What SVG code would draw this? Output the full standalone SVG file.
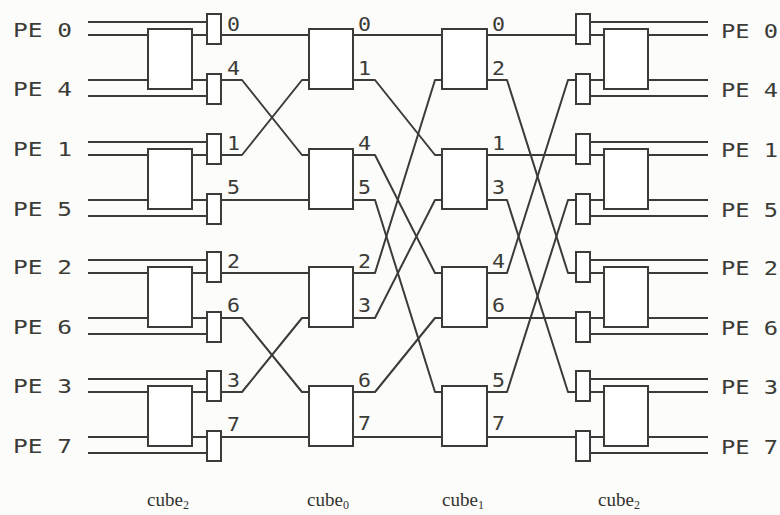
<svg xmlns="http://www.w3.org/2000/svg" width="780" height="515" viewBox="0 0 780 515">
  <style>
    .bg { fill: #fcfcfa; }
    .sw { fill: #ffffff; stroke: #3b3b38; stroke-width: 2; }
    .mx { fill: #ffffff; stroke: #3b3b38; stroke-width: 2; }
    .w { fill: none; stroke: #3b3b38; stroke-width: 2; stroke-linejoin: round; }
    .pe { font-family: "DejaVu Sans Mono", "Liberation Mono", monospace; font-size: 20px; fill: #3b3b38; }
    .tag { font-family: "DejaVu Sans Mono", "Liberation Mono", monospace; font-size: 20px; fill: #3b3b38; }
    .cap { font-family: "Liberation Serif", "DejaVu Serif", serif; font-size: 19px; fill: #333330; }
    .sub { font-size: 12px; }
  </style>

  <rect class="bg" x="0" y="0" width="780" height="515"/>

  <!-- wires: PE inputs, inter-stage links, PE outputs -->
  <g id="connectors">
    <!-- input side, pair 0/4 -->
    <path class="w" d="M88 22H207 M88 35H148 M192 35H207 M88 80H148 M192 80H207 M88 96H207"/>
    <!-- pair 1/5 -->
    <path class="w" d="M88 142H207 M88 155H148 M192 155H207 M88 200H148 M192 200H207 M88 216H207"/>
    <!-- pair 2/6 -->
    <path class="w" d="M88 260H207 M88 273H148 M192 273H207 M88 318H148 M192 318H207 M88 334H207"/>
    <!-- pair 3/7 -->
    <path class="w" d="M88 379H207 M88 392H148 M192 392H207 M88 437H148 M192 437H207 M88 453H207"/>

    <!-- cube2 -> cube0 -->
    <path class="w" d="M221 35H309"/>
    <path class="w" d="M221 80H242L302 155H309"/>
    <path class="w" d="M221 155H242L302 80H309"/>
    <path class="w" d="M221 200H309"/>
    <path class="w" d="M221 273H309"/>
    <path class="w" d="M221 318H242L302 392H309"/>
    <path class="w" d="M221 392H242L302 318H309"/>
    <path class="w" d="M221 437H309"/>

    <!-- cube0 -> cube1 -->
    <path class="w" d="M353 35H442"/>
    <path class="w" d="M353 80H375L435 155H442"/>
    <path class="w" d="M353 155H375L435 273H442"/>
    <path class="w" d="M353 200H375L435 392H442"/>
    <path class="w" d="M353 273H375L435 80H442"/>
    <path class="w" d="M353 318H375L435 200H442"/>
    <path class="w" d="M353 392H375L435 318H442"/>
    <path class="w" d="M353 437H442"/>

    <!-- cube1 -> cube2 -->
    <path class="w" d="M487 35H576"/>
    <path class="w" d="M487 80H507L568 273H576"/>
    <path class="w" d="M487 155H576"/>
    <path class="w" d="M487 200H507L568 392H576"/>
    <path class="w" d="M487 273H507L568 80H576"/>
    <path class="w" d="M487 318H576"/>
    <path class="w" d="M487 392H507L568 200H576"/>
    <path class="w" d="M487 437H576"/>

    <!-- output side -->
    <path class="w" d="M590 22H708 M590 35H604 M648 35H708 M648 80H708 M590 80H604 M590 96H708"/>
    <path class="w" d="M590 142H708 M590 155H604 M648 155H708 M648 200H708 M590 200H604 M590 216H708"/>
    <path class="w" d="M590 260H708 M590 273H604 M648 273H708 M648 318H708 M590 318H604 M590 334H708"/>
    <path class="w" d="M590 379H708 M590 392H604 M648 392H708 M648 437H708 M590 437H604 M590 453H708"/>
  </g>

  <!-- first cube2 stage: switch boxes and selectors -->
  <g id="in-sw-0"><rect class="sw" x="148" y="29" width="44" height="60"/></g>
  <g id="in-sw-1"><rect class="sw" x="148" y="149" width="44" height="60"/></g>
  <g id="in-sw-2"><rect class="sw" x="148" y="267" width="44" height="60"/></g>
  <g id="in-sw-3"><rect class="sw" x="148" y="386" width="44" height="60"/></g>

  <g id="in-mux-0"><rect class="mx" x="207" y="14" width="14" height="30"/><text class="tag" x="227" y="31" textLength="13" lengthAdjust="spacingAndGlyphs">0</text></g>
  <g id="in-mux-4"><rect class="mx" x="207" y="74" width="14" height="30"/><text class="tag" x="227" y="75" textLength="13" lengthAdjust="spacingAndGlyphs">4</text></g>
  <g id="in-mux-1"><rect class="mx" x="207" y="134" width="14" height="30"/><text class="tag" x="227" y="150" textLength="13" lengthAdjust="spacingAndGlyphs">1</text></g>
  <g id="in-mux-5"><rect class="mx" x="207" y="194" width="14" height="30"/><text class="tag" x="227" y="194" textLength="13" lengthAdjust="spacingAndGlyphs">5</text></g>
  <g id="in-mux-2"><rect class="mx" x="207" y="252" width="14" height="30"/><text class="tag" x="227" y="268" textLength="13" lengthAdjust="spacingAndGlyphs">2</text></g>
  <g id="in-mux-6"><rect class="mx" x="207" y="312" width="14" height="30"/><text class="tag" x="227" y="312" textLength="13" lengthAdjust="spacingAndGlyphs">6</text></g>
  <g id="in-mux-3"><rect class="mx" x="207" y="371" width="14" height="30"/><text class="tag" x="227" y="387" textLength="13" lengthAdjust="spacingAndGlyphs">3</text></g>
  <g id="in-mux-7"><rect class="mx" x="207" y="431" width="14" height="30"/><text class="tag" x="227" y="431" textLength="13" lengthAdjust="spacingAndGlyphs">7</text></g>

  <!-- cube0 stage -->
  <g id="c0-sw-0"><rect class="sw" x="309" y="29" width="44" height="60"/><text class="tag" x="358" y="31" textLength="13" lengthAdjust="spacingAndGlyphs">0</text><text class="tag" x="358" y="75" textLength="13" lengthAdjust="spacingAndGlyphs">1</text></g>
  <g id="c0-sw-1"><rect class="sw" x="309" y="149" width="44" height="60"/><text class="tag" x="358" y="150" textLength="13" lengthAdjust="spacingAndGlyphs">4</text><text class="tag" x="358" y="194" textLength="13" lengthAdjust="spacingAndGlyphs">5</text></g>
  <g id="c0-sw-2"><rect class="sw" x="309" y="267" width="44" height="60"/><text class="tag" x="358" y="268" textLength="13" lengthAdjust="spacingAndGlyphs">2</text><text class="tag" x="358" y="312" textLength="13" lengthAdjust="spacingAndGlyphs">3</text></g>
  <g id="c0-sw-3"><rect class="sw" x="309" y="386" width="44" height="60"/><text class="tag" x="358" y="387" textLength="13" lengthAdjust="spacingAndGlyphs">6</text><text class="tag" x="358" y="430" textLength="13" lengthAdjust="spacingAndGlyphs">7</text></g>

  <!-- cube1 stage -->
  <g id="c1-sw-0"><rect class="sw" x="442" y="29" width="45" height="60"/><text class="tag" x="492" y="31" textLength="13" lengthAdjust="spacingAndGlyphs">0</text><text class="tag" x="492" y="75" textLength="13" lengthAdjust="spacingAndGlyphs">2</text></g>
  <g id="c1-sw-1"><rect class="sw" x="442" y="149" width="45" height="60"/><text class="tag" x="492" y="150" textLength="13" lengthAdjust="spacingAndGlyphs">1</text><text class="tag" x="492" y="194" textLength="13" lengthAdjust="spacingAndGlyphs">3</text></g>
  <g id="c1-sw-2"><rect class="sw" x="442" y="267" width="45" height="60"/><text class="tag" x="492" y="268" textLength="13" lengthAdjust="spacingAndGlyphs">4</text><text class="tag" x="492" y="312" textLength="13" lengthAdjust="spacingAndGlyphs">6</text></g>
  <g id="c1-sw-3"><rect class="sw" x="442" y="386" width="45" height="60"/><text class="tag" x="492" y="387" textLength="13" lengthAdjust="spacingAndGlyphs">5</text><text class="tag" x="492" y="430" textLength="13" lengthAdjust="spacingAndGlyphs">7</text></g>

  <!-- final cube2 stage: selectors and switch boxes -->
  <g id="out-mux-0"><rect class="mx" x="576" y="14" width="14" height="30"/></g>
  <g id="out-mux-4"><rect class="mx" x="576" y="74" width="14" height="30"/></g>
  <g id="out-mux-1"><rect class="mx" x="576" y="134" width="14" height="30"/></g>
  <g id="out-mux-5"><rect class="mx" x="576" y="194" width="14" height="30"/></g>
  <g id="out-mux-2"><rect class="mx" x="576" y="252" width="14" height="30"/></g>
  <g id="out-mux-6"><rect class="mx" x="576" y="312" width="14" height="30"/></g>
  <g id="out-mux-3"><rect class="mx" x="576" y="371" width="14" height="30"/></g>
  <g id="out-mux-7"><rect class="mx" x="576" y="431" width="14" height="30"/></g>

  <g id="out-sw-0"><rect class="sw" x="604" y="29" width="44" height="60"/></g>
  <g id="out-sw-1"><rect class="sw" x="604" y="149" width="44" height="60"/></g>
  <g id="out-sw-2"><rect class="sw" x="604" y="267" width="44" height="60"/></g>
  <g id="out-sw-3"><rect class="sw" x="604" y="386" width="44" height="60"/></g>

  <!-- processing element labels -->
  <g id="pe-in">
    <text class="pe" x="13" y="37" textLength="59" lengthAdjust="spacingAndGlyphs">PE 0</text>
    <text class="pe" x="13" y="96" textLength="59" lengthAdjust="spacingAndGlyphs">PE 4</text>
    <text class="pe" x="13" y="156" textLength="59" lengthAdjust="spacingAndGlyphs">PE 1</text>
    <text class="pe" x="13" y="216" textLength="59" lengthAdjust="spacingAndGlyphs">PE 5</text>
    <text class="pe" x="13" y="274" textLength="59" lengthAdjust="spacingAndGlyphs">PE 2</text>
    <text class="pe" x="13" y="334" textLength="59" lengthAdjust="spacingAndGlyphs">PE 6</text>
    <text class="pe" x="13" y="393" textLength="59" lengthAdjust="spacingAndGlyphs">PE 3</text>
    <text class="pe" x="13" y="453" textLength="59" lengthAdjust="spacingAndGlyphs">PE 7</text>
  </g>
  <g id="pe-out">
    <text class="pe" x="721" y="38" textLength="57" lengthAdjust="spacingAndGlyphs">PE 0</text>
    <text class="pe" x="721" y="97" textLength="57" lengthAdjust="spacingAndGlyphs">PE 4</text>
    <text class="pe" x="721" y="157" textLength="57" lengthAdjust="spacingAndGlyphs">PE 1</text>
    <text class="pe" x="721" y="217" textLength="57" lengthAdjust="spacingAndGlyphs">PE 5</text>
    <text class="pe" x="721" y="275" textLength="57" lengthAdjust="spacingAndGlyphs">PE 2</text>
    <text class="pe" x="721" y="335" textLength="57" lengthAdjust="spacingAndGlyphs">PE 6</text>
    <text class="pe" x="721" y="394" textLength="57" lengthAdjust="spacingAndGlyphs">PE 3</text>
    <text class="pe" x="721" y="454" textLength="57" lengthAdjust="spacingAndGlyphs">PE 7</text>
  </g>

  <!-- stage captions -->
  <g id="captions">
    <text class="cap" x="147" y="506">cube<tspan class="sub" dy="3">2</tspan></text>
    <text class="cap" x="307" y="506">cube<tspan class="sub" dy="3">0</tspan></text>
    <text class="cap" x="442" y="506">cube<tspan class="sub" dy="3">1</tspan></text>
    <text class="cap" x="598" y="506">cube<tspan class="sub" dy="3">2</tspan></text>
  </g>
</svg>
